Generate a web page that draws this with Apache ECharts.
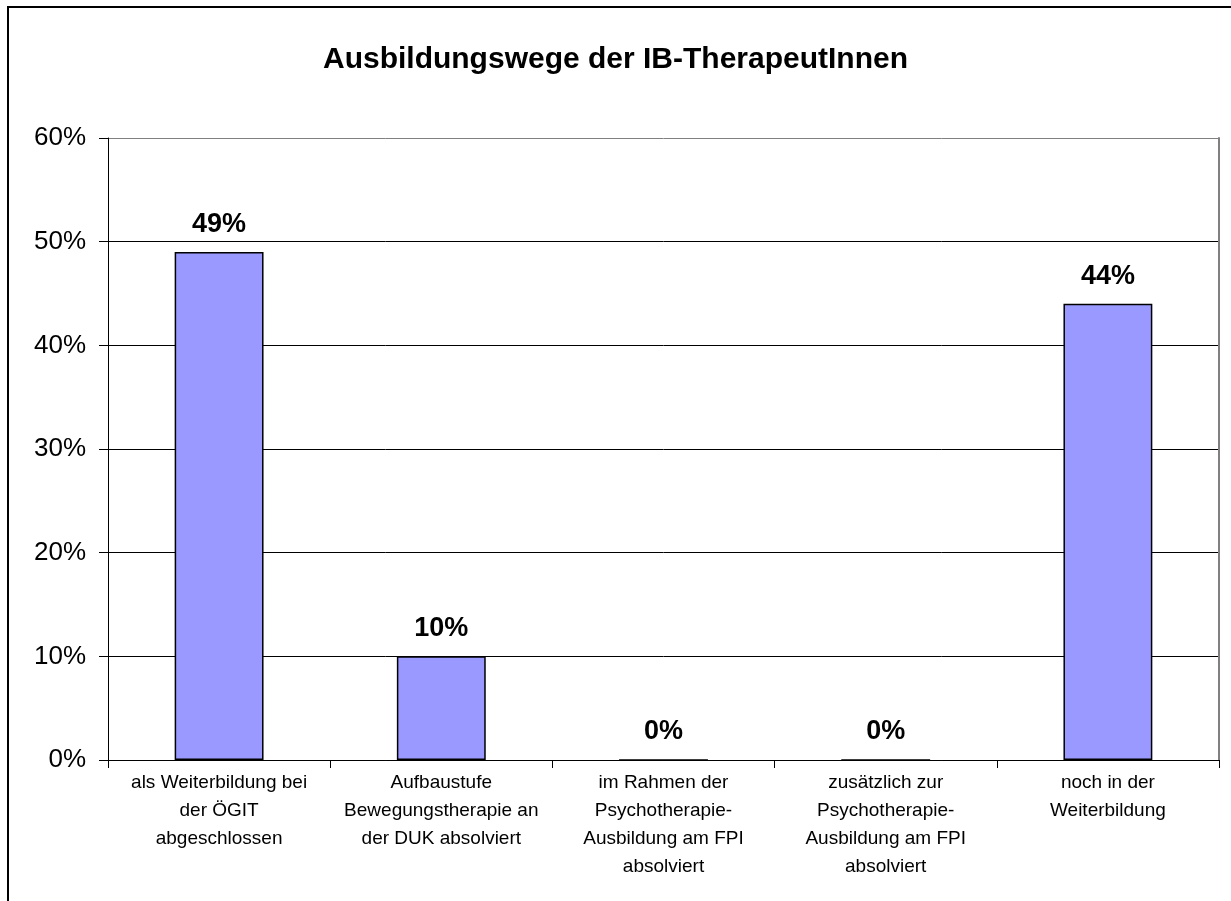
<!DOCTYPE html>
<html>
<head>
<meta charset="utf-8">
<script src="https://cdn.jsdelivr.net/npm/echarts@6/dist/echarts.min.js"></script>
<style>
  html, body { margin: 0; padding: 0; background: #fff; }
  #chart { width: 1231px; height: 901px; }
</style>
</head>
<body>
<div id="chart"></div>
<script>
const categories = [
  'als Weiterbildung bei\nder ÖGIT\nabgeschlossen',
  'Aufbaustufe\nBewegungstherapie an\nder DUK absolviert',
  'im Rahmen der\nPsychotherapie-\nAusbildung am FPI\nabsolviert',
  'zusätzlich zur\nPsychotherapie-\nAusbildung am FPI\nabsolviert',
  'noch in der\nWeiterbildung'
]
const shares = [49, 10, 0, 0, 44]
const yTicks = [0, 10, 20, 30, 40, 50, 60]

const font = '"Liberation Sans", Arial, sans-serif'
const chart = echarts.init(document.getElementById('chart'))

chart.setOption({
  animation: false,
  backgroundColor: '#fff',
  title: {
    text: 'Ausbildungswege der IB-TherapeutInnen',
    left: 'center',
    top: 40,
    textStyle: { fontFamily: font, fontSize: 30, fontWeight: 'bold', color: '#000' }
  },
  graphic: [{
    type: 'rect',
    shape: { x: 8, y: 7, width: 1240, height: 920 },
    style: { fill: 'none', stroke: '#000', lineWidth: 2 },
    silent: true
  }],
  grid: { left: 108, right: 12, top: 138, bottom: 141 },
  xAxis: {
    type: 'category',
    data: categories,
    axisLine: { lineStyle: { color: '#000', width: 1 } },
    axisTick: { show: true, length: 8, lineStyle: { color: '#000' } },
    axisLabel: {
      fontFamily: font, fontSize: 19, color: '#000',
      lineHeight: 28, margin: 9, interval: 0
    }
  },
  yAxis: [{
    type: 'value',
    min: yTicks[0],
    max: yTicks[yTicks.length - 1],
    interval: 10,
    axisLine: { show: true, lineStyle: { color: '#000' } },
    axisTick: { show: true, length: 9, lineStyle: { color: '#000' } },
    axisLabel: { fontFamily: font, fontSize: 26, color: '#000', margin: 22, formatter: '{value}%' },
    splitLine: {
      lineStyle: { color: ['#000', '#000', '#000', '#000', '#000', '#000', '#808080'], width: 1 }
    }
  }, {
    type: 'value',
    position: 'right',
    min: 0,
    max: 60,
    axisLine: { show: true, lineStyle: { color: '#808080', width: 2 } },
    axisTick: { show: false },
    axisLabel: { show: false },
    splitLine: { show: false }
  }],
  series: [{
    type: 'bar',
    data: shares,
    barCategoryGap: '60%',
    itemStyle: { color: '#9999FF', borderColor: '#000', borderWidth: 1.5 },
    label: {
      show: true,
      position: 'top',
      distance: 12,
      formatter: '{c}%',
      fontFamily: font,
      fontSize: 27,
      fontWeight: 'bold',
      color: '#000',
      backgroundColor: '#fff',
      padding: [2, 6]
    }
  }]
})
</script>
</body>
</html>
